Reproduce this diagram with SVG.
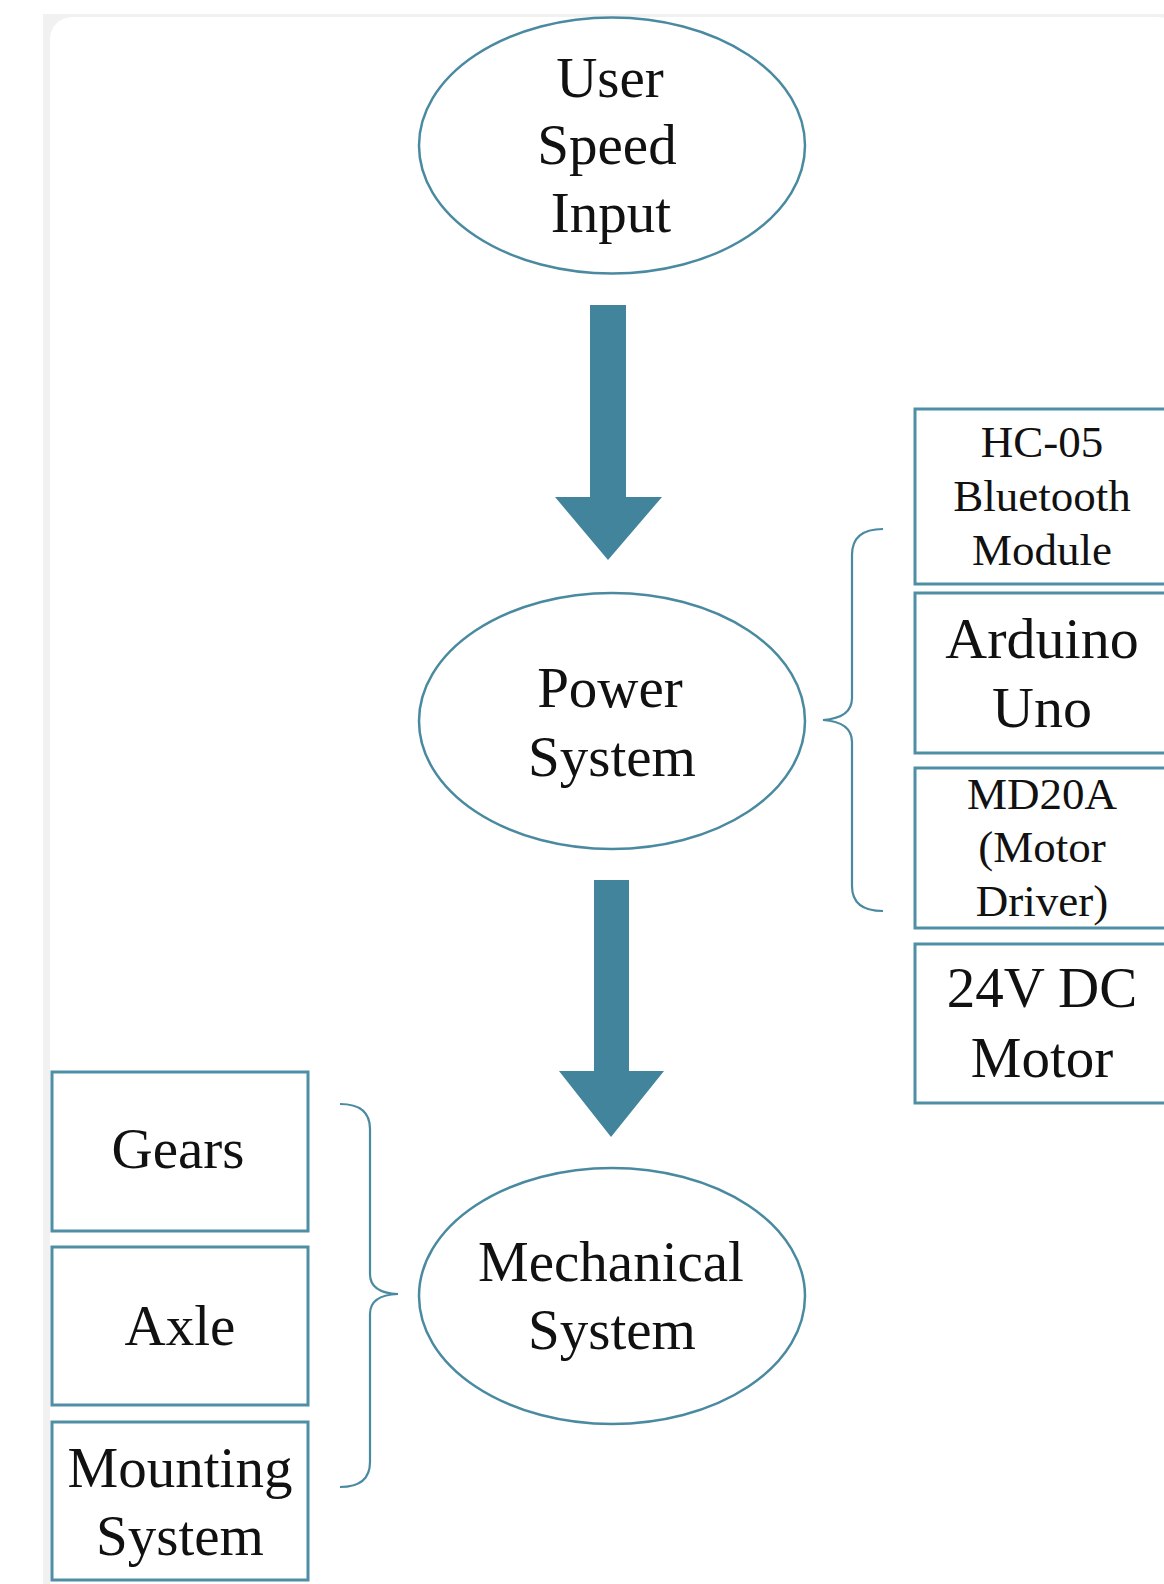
<svg xmlns="http://www.w3.org/2000/svg" width="1164" height="1584" viewBox="0 0 1164 1584">
<style>
.t{font-family:"Liberation Serif","Times New Roman",serif;fill:#111;text-anchor:middle}
.big{font-size:57px}
.mid{font-size:58px}
.sm{font-size:45px}
.node{fill:#fff;stroke:#4a8aa1;stroke-width:2.5}
.box{fill:#fff;stroke:#4f8fa5;stroke-width:3}
.arrow{fill:#41849c}
.brace{fill:none;stroke:#4a8aa1;stroke-width:2.2}
</style>
<rect x="0" y="0" width="1164" height="1584" fill="#fff"/>
<rect x="43" y="14" width="1121" height="1570" fill="#f1f1f1"/>
<rect x="50" y="17" width="1130" height="1590" rx="22" fill="#fff"/>

<g id="connectors">
<path class="arrow" d="M590 305 H626 V497 H662 L608 560 L555 497 H590 Z"/>
<path class="arrow" d="M594 880 H629 V1071 H664 L611 1137 L559 1071 H594 Z"/>
<path class="brace" d="M883 529 Q852 529 852 555 V698 Q852 718 823 720 Q852 722 852 742 V886 Q852 911 883 911"/>
<path class="brace" d="M340 1104 Q370 1104 370 1129 V1274 Q370 1293 398 1294 Q370 1295 370 1314 V1462 Q370 1487 340 1487"/>
</g>

<g id="user-speed-input">
<ellipse class="node" cx="612" cy="145.5" rx="193" ry="128"/>
<text class="t big" x="610" y="97">User</text>
<text class="t big" x="607" y="164">Speed</text>
<text class="t big" x="611" y="232">Input</text>
</g>

<g id="power-system">
<ellipse class="node" cx="612" cy="721" rx="193" ry="128"/>
<text class="t big" x="610" y="707">Power</text>
<text class="t big" x="612" y="776">System</text>
</g>

<g id="mechanical-system">
<ellipse class="node" cx="612" cy="1296" rx="193" ry="128"/>
<text class="t big" x="611" y="1281">Mechanical</text>
<text class="t big" x="612" y="1349">System</text>
</g>

<g id="hc05">
<rect class="box" x="915" y="409" width="260" height="175"/>
<text class="t sm" x="1042" y="457">HC-05</text>
<text class="t sm" x="1042" y="511">Bluetooth</text>
<text class="t sm" x="1042" y="565">Module</text>
</g>

<g id="arduino">
<rect class="box" x="915" y="593" width="260" height="160"/>
<text class="t mid" x="1042" y="658">Arduino</text>
<text class="t mid" x="1042" y="727">Uno</text>
</g>

<g id="md20a">
<rect class="box" x="915" y="768" width="260" height="160"/>
<text class="t sm" x="1042" y="809">MD20A</text>
<text class="t sm" x="1042" y="862">(Motor</text>
<text class="t sm" x="1042" y="916">Driver)</text>
</g>

<g id="dc-motor">
<rect class="box" x="915" y="944" width="260" height="159"/>
<text class="t big" x="1042" y="1007">24V DC</text>
<text class="t big" x="1042" y="1077">Motor</text>
</g>

<g id="gears">
<rect class="box" x="52" y="1072" width="256" height="159"/>
<text class="t big" x="178" y="1168">Gears</text>
</g>

<g id="axle">
<rect class="box" x="52" y="1247" width="256" height="158"/>
<text class="t big" x="180" y="1345">Axle</text>
</g>

<g id="mounting-system">
<rect class="box" x="52" y="1422" width="256" height="158"/>
<text class="t big" x="180" y="1487">Mounting</text>
<text class="t big" x="180" y="1555">System</text>
</g>
</svg>
